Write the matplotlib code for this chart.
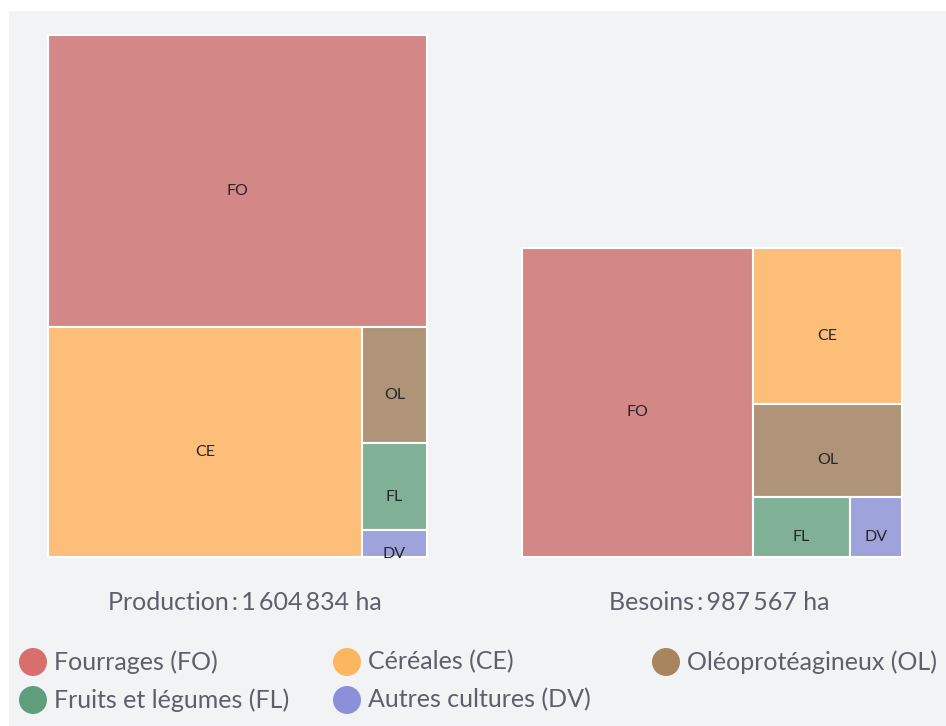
"""
Treemaps: surfaces agricoles, production vs besoins.
"""
import matplotlib
matplotlib.use("Agg")
import matplotlib.pyplot as plt
from matplotlib.patches import Rectangle, Circle

plt.rcParams['font.family'] = ['Lato', 'DejaVu Sans']

# data (ha)
codes = ["FO", "CE", "OL", "FL", "DV"]
names = ["Fourrages (FO)", "Céréales (CE)", "Oléoprotéagineux (OL)",
         "Fruits et légumes (FL)", "Autres cultures (DV)"]
production = [897700, 585860, 61170, 45880, 14224]
besoins = [600340, 195490, 116540, 48950, 26247]
titles = ["Production\u2009:\u20091\u2009604\u2009834 ha",
          "Besoins\u2009:\u2009987\u2009567 ha"]

fill_colors = ["#D38787", "#FDBE79", "#AF9479", "#80B196", "#9FA3DC"]
dot_colors = ["#D86E6E", "#FDB660", "#A8845F", "#5F9E7C", "#8C90D8"]


def worst(row, w):
    s = sum(row)
    return max(max(w * w * r / (s * s), s * s / (w * w * r)) for r in row)


def layout_row(row, x, y, dx, dy):
    # lay row along the shorter side, return rects + remaining box
    s = sum(row)
    rects = []
    if dx >= dy:
        width = s / dy
        yy = y
        for r in row:
            h = r / width
            rects.append((x, yy, width, h))
            yy += h
        return rects, (x + width, y, dx - width, dy)
    height = s / dx
    xx = x
    for r in row:
        w = r / height
        rects.append((xx, y, w, height))
        xx += w
    return rects, (x, y + height, dx, dy - height)


def squarify(values, x, y, dx, dy):
    total = sum(values)
    sizes = [v * dx * dy / total for v in values]
    rects = []
    box = (x, y, dx, dy)
    i = 0
    while i < len(sizes):
        bx, by, bdx, bdy = box
        side = min(bdx, bdy)
        row = [sizes[i]]
        i += 1
        while i < len(sizes) and worst(row + [sizes[i]], side) <= worst(row, side):
            row.append(sizes[i])
            i += 1
        r, box = layout_row(row, bx, by, bdx, bdy)
        rects += r
    return rects


fig = plt.figure(figsize=(9.46, 7.26), dpi=100)
ax = fig.add_axes([0, 0, 1, 1])
ax.set_xlim(0, 946)
ax.set_ylim(726, 0)
ax.axis("off")
ax.add_patch(Rectangle((9, 11), 940, 720, facecolor="#F2F3F5", edgecolor="none"))

boxes = [(48, 35, 379, 522), (522, 248, 380, 309)]
for data, box, title in zip([production, besoins], boxes, titles):
    rects = squarify(data, *box)
    for (rx, ry, rw, rh), code, col in zip(rects, codes, fill_colors):
        p = Rectangle((rx, ry), rw, rh, facecolor=col, edgecolor="white", linewidth=1.5)
        ax.add_patch(p)
        t = ax.text(rx + rw / 2, ry + rh / 2 + 10, code, ha="center", va="center",
                    fontsize=11.5, color="#262626")
        t.set_clip_path(p)
    bx, by, bw, bh = box
    ax.text(bx + bw / 2 + 7, 602, title, ha="center", va="center",
            fontsize=18, color="#5B606A")

# legend
legend_pos = [(33, 662), (347, 662), (666, 662), (33, 700), (347, 700)]
for (lx, ly), name, col in zip(legend_pos, names, dot_colors):
    ax.add_patch(Circle((lx, ly), 14, facecolor=col, edgecolor="none"))
    ax.text(lx + 21, ly, name, ha="left", va="center", fontsize=18, color="#5B606A")

fig.savefig("out.png", dpi=100)
